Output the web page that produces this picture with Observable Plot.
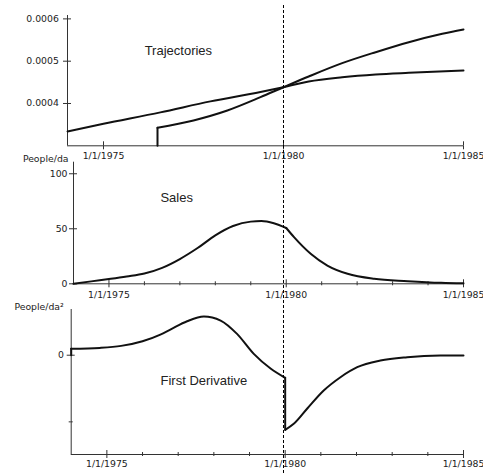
<!DOCTYPE html>
<html><head><meta charset="utf-8">
<script src="https://cdn.jsdelivr.net/npm/d3@7"></script>
<script src="https://cdn.jsdelivr.net/npm/@observablehq/plot@0.6"></script>
<style>
html,body{margin:0;padding:0;background:#fff;}
#chart{position:relative;width:483px;height:473px;overflow:hidden;background:#fff;}
#chart svg{position:absolute;left:0;}
</style></head><body><div id="chart"></div>
<script>
// ---------- data ----------
const xDomain = [1974, 1985];
const labeledYears = [1975, 1980, 1985];
const minorYears = [1976, 1977, 1978, 1979, 1981, 1982, 1983, 1984];
const interventionYear = 1980;

// Trajectories (panel 1)
const trajYearsA = [1974.0, 1975.0, 1976.58, 1977.97, 1979.36, 1980.0, 1980.7, 1981.63, 1982.56, 1983.48, 1985.0];
const trajA      = [0.000334, 0.000352, 0.000379, 0.000405, 0.000427, 0.0004385, 0.000452, 0.000462, 0.0004686, 0.0004726, 0.000478];
const trajYearsB = [1976.5, 1977.5, 1978.44, 1979.36, 1980.0, 1980.7, 1981.63, 1982.56, 1983.48, 1984.41, 1985.0];
const trajB      = [0.0003426, 0.00036, 0.0003835, 0.000415, 0.0004385, 0.0004638, 0.0004953, 0.0005213, 0.0005449, 0.0005648, 0.000575];
const trajTicks  = [0.0004, 0.0005, 0.0006];
const trajDomain = [0.0003, 0.000608];

// Sales (panel 2)
const salesYearsPre  = [1974.0, 1974.5, 1975.05, 1975.5, 1976.0, 1976.5, 1977.0, 1977.5, 1978.0, 1978.5, 1979.0, 1979.3, 1979.65, 1980.0];
const salesPre       = [0, 2.2, 4.5, 6.6, 9.3, 14.5, 22.5, 32.5, 44, 52.5, 56.5, 57, 55, 50.7];
const salesYearsPost = [1980.0, 1980.22, 1980.69, 1981.16, 1981.73, 1982.48, 1983.43, 1984.37, 1985.0];
const salesPost      = [50.7, 42.4, 27.3, 16.6, 9.1, 4.5, 2.4, 0.9, 0.4];
const salesTicks  = [0, 50, 100];
const salesDomain = [0, 110.5];

// First derivative (panel 3)
const derivStart     = 0;
const derivYearsPre  = [1974.0, 1974.8, 1975.4, 1976.0, 1976.5, 1976.78, 1977.25, 1977.72, 1978.19, 1978.65, 1979.12, 1979.59, 1980.0];
const derivPre       = [0.0096, 0.011, 0.014, 0.021, 0.031, 0.0385, 0.051, 0.058, 0.052, 0.032, 0.002, -0.020, -0.034];
const derivYearsPost = [1980.0, 1980.24, 1980.62, 1981.08, 1981.55, 1982.02, 1982.67, 1983.42, 1984.35, 1985.0];
const derivPost      = [-0.112, -0.103, -0.080, -0.053, -0.033, -0.018, -0.008, -0.003, -0.0005, -0.0004];
const derivMajorTicks = [0];
const derivMinorTicks = [-0.1];
const derivDomain = [-0.149, 0.0686];

const titles = ["Trajectories", "Sales", "First Derivative"];
const unitLabels = ["People/da", "People/da\u00b2"];

// ---------- helpers ----------
const rows = (xs, ys) => xs.map((x, i) => ({year: x, value: ys[i]}));
const splitAt = (r, yr) => { const i = r.findIndex(d => d.year === yr); return [r.slice(0, i + 1), r.slice(i)]; };
const INK = "#111", AX = "#333";
const tickFont = "DejaVu Sans, Verdana, sans-serif";
const titleFont = "Liberation Sans, Arial, sans-serif";
const lineOpts = {x: "year", y: "value", stroke: INK, strokeWidth: 2, curve: "monotone-x"};
const jumpOpts = {x: "year", y: "value", stroke: INK, strokeWidth: 2};

function xAxes(major, minor, pad) {
  const m = [
    Plot.axisX(major, {tickSize: 4, tickPadding: pad, tickFormat: d => `1/1/${d}`, stroke: AX, fill: "#222", label: null}),
    Plot.axisX(major, {tickSize: 4, dy: -4, fill: "none", stroke: AX, label: null})
  ];
  if (minor) m.push(
    Plot.axisX(minor, {tickSize: 2, fill: "none", stroke: AX, label: null}),
    Plot.axisX(minor, {tickSize: 2, dy: -2, fill: "none", stroke: AX, label: null})
  );
  return m;
}
function yAxes(major, minor, pad, fmt) {
  const m = [
    Plot.axisY(major, {tickSize: 4, tickPadding: pad, tickFormat: fmt, stroke: AX, fill: "#222", label: null}),
    Plot.axisY(major, {tickSize: 4, dx: 4, fill: "none", stroke: AX, label: null})
  ];
  if (minor) m.push(
    Plot.axisY(minor, {tickSize: 2, fill: "none", stroke: AX, label: null}),
    Plot.axisY(minor, {tickSize: 2, dx: 2, fill: "none", stroke: AX, label: null})
  );
  return m;
}
function panel({top, height, marginTop, marginBottom, marginLeft, yDomain, marks}) {
  const svg = Plot.plot({
    width: 483, height, marginTop, marginBottom, marginLeft, marginRight: 20,
    x: {domain: xDomain, label: null},
    y: {domain: yDomain, label: null},
    style: {background: "transparent", fontFamily: tickFont, fontSize: "9.3px", color: "#222", overflow: "visible"},
    marks: [
      Plot.ruleX([xDomain[0]], {stroke: AX}),
      Plot.ruleY([yDomain[0]], {stroke: AX}),
      ...marks
    ]
  });
  svg.style.top = top + "px";
  document.getElementById("chart").appendChild(svg);
}

// ---------- panel 1: trajectories ----------
const rA = rows(trajYearsA, trajA);
const [a1, a2] = splitAt(rA, interventionYear);
const rB = rows(trajYearsB, trajB);
panel({
  top: 0, height: 162, marginTop: 15, marginBottom: 16.7, marginLeft: 67, yDomain: trajDomain,
  marks: [
    ...xAxes(labeledYears, null, 2.4),
    ...yAxes(trajTicks, null, 4.7, d => d.toFixed(4)),
    Plot.line(a1, lineOpts), Plot.line(a2, lineOpts),
    Plot.line(rB, lineOpts),
    Plot.line([{year: trajYearsB[0], value: trajDomain[0]}, rB[0]], jumpOpts),
    Plot.text([titles[0]], {x: 1977.08, y: 0.000525, text: d => d, fontFamily: titleFont, fontSize: 13, fill: "#222"})
  ]
});

// ---------- panel 2: sales ----------
panel({
  top: 148, height: 152, marginTop: 13.7, marginBottom: 16.7, marginLeft: 73, yDomain: salesDomain,
  marks: [
    ...xAxes(labeledYears, minorYears, 3.7),
    ...yAxes(salesTicks, null, 2, d => String(d)),
    Plot.line(rows(salesYearsPre, salesPre), lineOpts),
    Plot.line(rows(salesYearsPost, salesPost), lineOpts),
    Plot.text([titles[1]], {x: 1976.91, y: 78.4, text: d => d, fontFamily: titleFont, fontSize: 13, fill: "#222"}),
    Plot.text([unitLabels[0]], {frameAnchor: "top-left", text: d => d, textAnchor: "end", dx: -5, dy: -6.7, fill: "#222"})
  ]
});

// ---------- panel 3: first derivative ----------
const dPre = rows(derivYearsPre, derivPre);
const dPost = rows(derivYearsPost, derivPost);
panel({
  top: 296, height: 177, marginTop: 13, marginBottom: 19, marginLeft: 70.7, yDomain: derivDomain,
  marks: [
    ...xAxes(labeledYears, minorYears, 2),
    ...yAxes(derivMajorTicks, derivMinorTicks, 3.4, d => d === 0 ? "0" : ""),
    Plot.line([{year: derivYearsPre[0], value: derivStart}, dPre[0]], jumpOpts),
    Plot.line(dPre, lineOpts),
    Plot.line([dPre[dPre.length - 1], dPost[0]], jumpOpts),
    Plot.line(dPost, lineOpts),
    Plot.text([titles[2]], {x: 1977.72, y: -0.038, text: d => d, fontFamily: titleFont, fontSize: 13, fill: "#222"}),
    Plot.text([unitLabels[1]], {frameAnchor: "top-left", text: d => d, textAnchor: "end", dx: -7.4, dy: -6.5, fill: "#222"})
  ]
});

// ---------- dashed intervention line across all panels ----------
const overlay = Plot.plot({
  width: 483, height: 473, marginTop: 5, marginBottom: 0, marginLeft: 67, marginRight: 20,
  x: {domain: xDomain, axis: null},
  style: {background: "transparent"},
  marks: [Plot.ruleX([interventionYear], {stroke: "#000", strokeWidth: 1, strokeDasharray: "3,2"})]
});
overlay.style.top = "0px";
document.getElementById("chart").appendChild(overlay);
</script>
</body></html>
